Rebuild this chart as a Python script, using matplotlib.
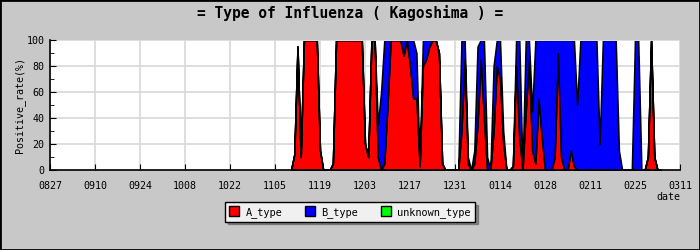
import numpy as np
import pandas as pd
import matplotlib
matplotlib.use("Agg")
import matplotlib.pyplot as plt
import matplotlib.dates as mdates
from matplotlib.patches import Patch, Rectangle

# daily positive rate (%) by type, starting 11/10 (nothing reported before)
first_day = "2022-11-10"
a_type = [0, 12, 95, 10, 100, 100, 100, 100, 100, 15,
          0, 0, 0, 5, 100, 100, 100, 100, 100, 100,
          100, 100, 100, 20, 10, 100, 100, 10, 0, 5,
          50, 100, 100, 100, 100, 88, 100, 80, 55, 55,
          3, 80, 85, 95, 100, 100, 90, 5, 0, 0,
          0, 0, 0, 30, 85, 5, 0, 5, 35, 85,
          40, 0, 0, 30, 80, 70, 20, 0, 0, 3,
          80, 25, 0, 45, 84, 15, 5, 55, 25, 0,
          0, 0, 10, 90, 10, 0, 0, 15, 3, 0,
          0, 0, 0, 0, 0, 0, 0, 0, 0, 0,
          0, 0, 0, 0, 0, 0, 0, 0, 0, 0,
          0, 10, 100, 10, 0, 0]
b_type = [0, 0, 0, 0, 0, 0, 0, 0, 0, 0,
          0, 0, 0, 0, 0, 0, 0, 0, 0, 0,
          0, 0, 0, 0, 0, 0, 0, 25, 60, 95,
          50, 0, 0, 0, 0, 12, 0, 20, 45, 35,
          0, 20, 15, 5, 0, 0, 0, 0, 0, 0,
          0, 0, 0, 70, 15, 5, 0, 10, 60, 15,
          60, 10, 0, 50, 20, 30, 10, 0, 0, 0,
          20, 75, 0, 55, 16, 30, 95, 45, 75, 100,
          100, 100, 90, 10, 90, 100, 100, 85, 97, 50,
          100, 100, 100, 100, 100, 100, 20, 100, 100, 100,
          100, 100, 15, 0, 0, 0, 0, 100, 100, 0,
          0, 0, 0, 0, 0, 0]
legend_labels = ["A_type", "B_type", "unknown_type"]
legend_colors = ["#ff0000", "#0000ff", "#00ff00"]

axis_start = pd.Timestamp("2022-08-27")
axis_end = pd.Timestamp("2023-03-11")

days = pd.date_range(first_day, periods=len(a_type), freq="D")
a = np.array(a_type, dtype=float)
b = np.array(b_type, dtype=float)

mono = "DejaVu Sans Mono"
plt.rcParams["font.family"] = mono
plt.rcParams["font.size"] = 7.2

fig = plt.figure(figsize=(7, 2.5), dpi=100, facecolor="#c8c8c8")
ax = fig.add_axes([50 / 700, 80 / 250, 630 / 700, 130 / 250])
ax.set_facecolor("white")

fills = []
fills.append(ax.fill_between(days, 0, a, facecolor="#ff0000", edgecolor="black",
                             linewidth=1.1, antialiased=False))
fills.append(ax.fill_between(days, a, a + b, facecolor="#0000ff", edgecolor="black",
                             linewidth=1.1, antialiased=False))

x0 = mdates.date2num(axis_start)
x1 = mdates.date2num(axis_end)
for f in fills:
    # hide the outline that would sit on the 100% edge
    f.set_clip_path(Rectangle((x0, 0), x1 - x0, 99.3, transform=ax.transData))

ax.set_xlim(axis_start, axis_end)
ax.set_ylim(0, 100)

ticks = pd.date_range(axis_start, axis_end, freq="14D")
ax.set_xticks(ticks)
ax.xaxis.set_major_formatter(mdates.DateFormatter("%m%d"))
ax.set_yticks(range(0, 101, 20))
ax.set_yticks(range(10, 100, 20), minor=True)

ax.grid(True, which="major", color="#d8d8d8", linewidth=1.2)
ax.set_axisbelow(True)
ax.tick_params(axis="x", which="major", direction="in", length=4, pad=8, labelsize=7.2)
ax.tick_params(axis="y", which="major", direction="in", length=4, pad=4, labelsize=7.2)
ax.tick_params(axis="y", which="minor", direction="in", length=3)

ax.spines["top"].set_visible(False)
ax.spines["right"].set_visible(False)
ax.spines["left"].set_linewidth(1.2)
ax.spines["bottom"].set_linewidth(1.2)

fig.text(0.5, 1 - 13 / 250, "= Type of Influenza ( Kagoshima ) =",
         ha="center", va="center", fontsize=10.5, fontweight="bold")
fig.text(20 / 700, 1 - 105 / 250, "Positive_rate(%)", rotation=90,
         ha="center", va="center", fontsize=7.2)
fig.text(680 / 700, 1 - 197 / 250, "date", ha="right", va="center", fontsize=7.2)

handles = [Patch(facecolor=c, edgecolor="black", linewidth=1.0) for c in legend_colors]
leg = fig.legend(handles, legend_labels, loc="center", bbox_to_anchor=(0.5, 1 - 212 / 250),
                 ncol=3, frameon=True, fancybox=False, shadow=True, edgecolor="black",
                 facecolor="#f0f0f0", framealpha=1, fontsize=7.4,
                 handlelength=1.0, handleheight=1.0, handletextpad=0.6,
                 columnspacing=2.2, borderpad=0.4)
leg.get_frame().set_linewidth(1.0)

fig.add_artist(Rectangle((0, 0), 1, 1, transform=fig.transFigure, fill=False,
                         edgecolor="black", linewidth=2))

fig.savefig("out.png", dpi=100, facecolor=fig.get_facecolor())
